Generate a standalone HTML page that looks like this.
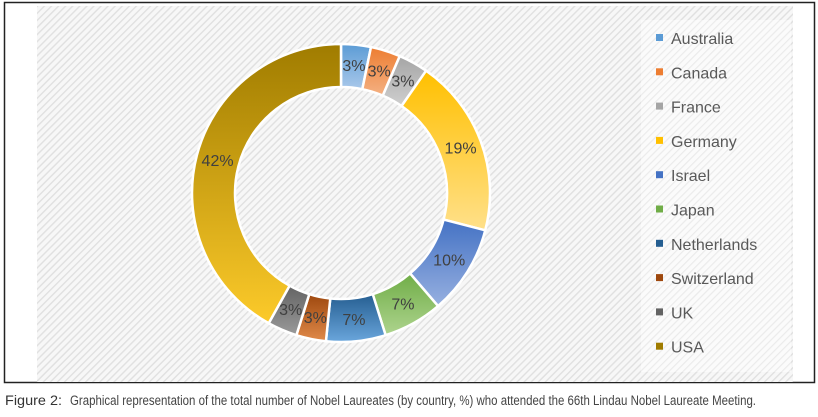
<!DOCTYPE html>
<html><head><meta charset="utf-8"><style>
html,body{margin:0;padding:0;background:#fff;}
svg{display:block;font-family:"Liberation Sans",sans-serif;}
</style></head><body>
<svg width="818" height="417" viewBox="0 0 818 417">
<defs>
<pattern id="hatch" width="5" height="5" patternUnits="userSpaceOnUse" patternTransform="rotate(-45)">
<rect width="5" height="5" fill="#f7f7f7"/><rect width="5" height="1.4" fill="#e0e0e0"/>
</pattern>
<pattern id="hatch2" width="5" height="5" patternUnits="userSpaceOnUse" patternTransform="rotate(-45)">
<rect width="5" height="5" fill="#fbfbfb"/><rect width="5" height="1.2" fill="#ebebeb"/>
</pattern>
</defs>
<rect x="4.5" y="2.5" width="810" height="380" fill="#fff" stroke="#222" stroke-width="1.5"/>
<rect x="37" y="6" width="756" height="376" fill="url(#hatch)"/>
<rect x="641" y="20" width="150" height="352" fill="url(#hatch2)"/>
<g id="slices"></g>
<g id="labels"></g>
<g id="legend"></g>
<text x="5" y="405" font-size="13.5" fill="#333" textLength="57" lengthAdjust="spacingAndGlyphs">Figure 2:</text>
<text x="70" y="405" font-size="13.5" fill="#444" textLength="686" lengthAdjust="spacingAndGlyphs">Graphical representation of the total number of Nobel Laureates (by country, %) who attended the 66th Lindau Nobel Laureate Meeting.</text>
</svg>
<script>
const categories=["Australia","Canada","France","Germany","Israel","Japan","Netherlands","Switzerland","UK","USA"];
const counts=[1,1,1,6,3,2,2,1,1,13];
const pctLabels=["3%","3%","3%","19%","10%","7%","7%","3%","3%","42%"];
const colorTop=["#5b9bd5","#ed7d31","#a5a5a5","#ffc000","#4472c4","#70ad47","#255e91","#9e480e","#636363","#a07c00"];
const colorBot=["#a9c8ea","#f4b183","#cfcfcf","#ffe08a","#97b0e0","#aed48e","#6aa6dc","#e08a4a","#9a9a9a","#fcca2a"];
const NS="http://www.w3.org/2000/svg";
const svg=document.querySelector("svg"),defs=svg.querySelector("defs");
const cx=341,cy=193,R=149,r=106;
const total=counts.reduce((a,b)=>a+b,0);
function pt(rad,a){return [cx+rad*Math.sin(a),cy-rad*Math.cos(a)];}
let acc=0;
const gS=document.getElementById("slices"),gL=document.getElementById("labels"),gLg=document.getElementById("legend");
counts.forEach((v,i)=>{
  const a0=acc/total*2*Math.PI;acc+=v;const a1=acc/total*2*Math.PI;
  const lg=document.createElementNS(NS,"linearGradient");
  lg.setAttribute("id","g"+i);lg.setAttribute("x1","0");lg.setAttribute("y1","0");lg.setAttribute("x2","0");lg.setAttribute("y2","1");
  lg.innerHTML='<stop offset="0" stop-color="'+colorTop[i]+'"/><stop offset="1" stop-color="'+colorBot[i]+'"/>';
  defs.appendChild(lg);
  const big=(a1-a0)>Math.PI?1:0;
  const p0=pt(R,a0),p1=pt(R,a1),q1=pt(r,a1),q0=pt(r,a0);
  const p=document.createElementNS(NS,"path");
  p.setAttribute("d",`M${p0} A${R} ${R} 0 ${big} 1 ${p1} L${q1} A${r} ${r} 0 ${big} 0 ${q0} Z`);
  p.setAttribute("fill","url(#g"+i+")");p.setAttribute("stroke","#fff");p.setAttribute("stroke-width","2.5");
  
  
  gS.appendChild(p);
  const m=(a0+a1)/2,lp=pt((R+r)/2,m);
  const t=document.createElementNS(NS,"text");
  t.setAttribute("x",lp[0]);t.setAttribute("y",lp[1]+5);t.setAttribute("text-anchor","middle");
  t.setAttribute("font-size","16");t.setAttribute("fill","#404040");t.textContent=pctLabels[i];
  
  
  gL.appendChild(t);
  const y=38+i*34.3;
  const s=document.createElementNS(NS,"rect");
  s.setAttribute("x",656);s.setAttribute("y",y-4);s.setAttribute("width",7);s.setAttribute("height",7);s.setAttribute("fill",colorTop[i]);
  
  
  gLg.appendChild(s);
  const lt=document.createElementNS(NS,"text");
  lt.setAttribute("x",671);lt.setAttribute("y",y+6);lt.setAttribute("font-size","16");lt.setAttribute("fill","#595959");
  lt.textContent=categories[i];
  
  
  gLg.appendChild(lt);
});
</script>
</body></html>
